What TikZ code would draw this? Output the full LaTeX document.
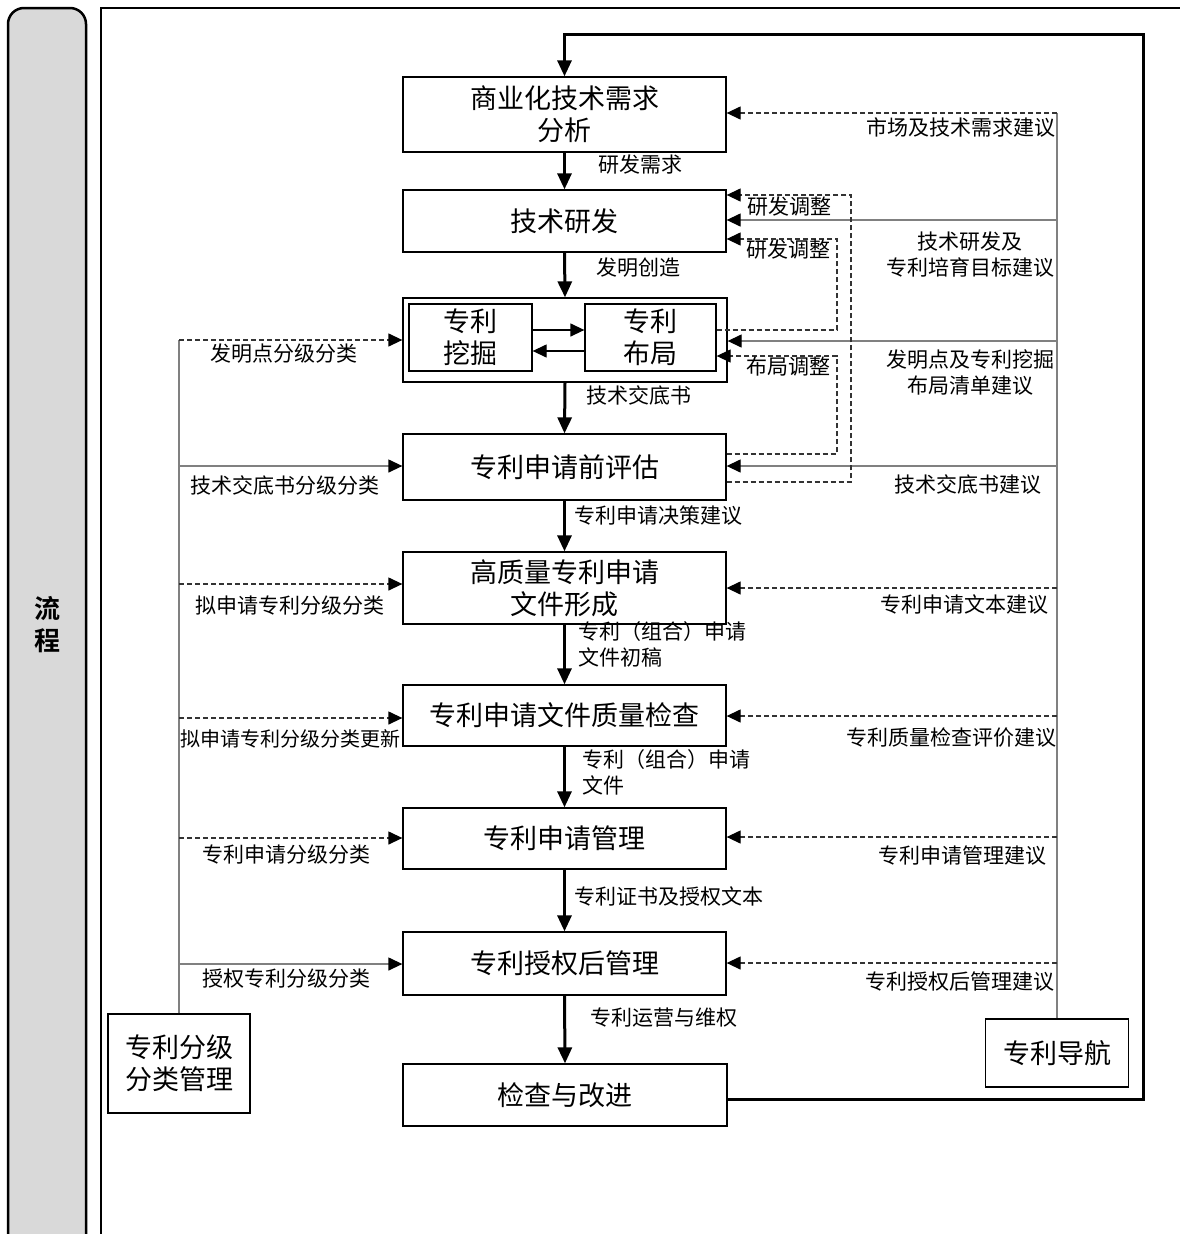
\documentclass[tikz,border=0pt]{standalone}
\usepackage{fontspec}
\setmainfont{Noto Sans CJK SC}
\newfontfamily\cjkbold{Noto Sans CJK SC Bold}
\usetikzlibrary{arrows.meta}
\definecolor{bargray}{HTML}{D9D9D9}
\definecolor{linegray}{HTML}{808080}
\begin{document}
\begin{tikzpicture}[x=1pt,y=-1pt,
  box/.style={draw, line width=1.3pt, inner sep=0pt, font=\fontsize{27}{32}\selectfont, align=center},
  lbl/.style={font=\fontsize{21}{26}\selectfont, inner sep=0pt, align=center},
  mainarrow/.style={line width=3pt, -{Triangle[length=16pt,width=14pt]}},
  solarrow/.style={line width=1.3pt, draw=linegray, -{Triangle[length=14pt,width=13pt,color=black]}},
  dsharrow/.style={line width=1.3pt, draw=black!80, dash pattern=on 5pt off 3pt, -{Triangle[length=14pt,width=13pt,color=black]}},
  dshline/.style={line width=1.3pt, draw=black!80, dash pattern=on 5pt off 3pt},
  inarrow/.style={line width=1.3pt, -{Triangle[length=14pt,width=13pt]}},
  grayline/.style={line width=1.3pt, draw=linegray}
]
\useasboundingbox (0,0) rectangle (1179,1234);
% side bar and frame
\draw[line width=2.5pt, fill=bargray, rounded corners=16pt] (8,8) rectangle (86,1252);
\node[font=\cjkbold\fontsize{26}{32}\selectfont, align=center] (side) at (47,625) {流\\程};
\draw[line width=2.5pt] (101,1250) -- (101,8) -- (1190,8);

% main boxes
\node[box, minimum width=323pt, minimum height=75pt] (b1) at (564.5,114.5) {商业化技术需求\\分析};
\node[box, minimum width=323pt, minimum height=62pt] (b2) at (564.5,221) {技术研发};
\node[draw, line width=1.3pt, inner sep=0pt, minimum width=324pt, minimum height=84pt] (b3) at (565,340) {};
\node[box, minimum width=123pt, minimum height=67pt] (bw) at (470.5,337.5) {专利\\挖掘};
\node[box, minimum width=131pt, minimum height=67pt] (bj) at (650.5,337.5) {专利\\布局};
\node[box, minimum width=323pt, minimum height=66pt] (b4) at (564.5,467) {专利申请前评估};
\node[box, minimum width=323pt, minimum height=72pt] (b5) at (564.5,588) {高质量专利申请\\文件形成};
\node[box, minimum width=323pt, minimum height=61pt] (b6) at (564.5,715.5) {专利申请文件质量检查};
\node[box, minimum width=323pt, minimum height=61pt] (b7) at (564.5,838.5) {专利申请管理};
\node[box, minimum width=323pt, minimum height=63pt] (b8) at (564.5,963.5) {专利授权后管理};
\node[box, minimum width=324pt, minimum height=62pt] (b9) at (565,1095) {检查与改进};
\node[box, minimum width=142pt, minimum height=99pt] (lbox) at (179,1063.5) {专利分级\\分类管理};
\node[box, minimum width=143pt, minimum height=68pt] (nbox) at (1057,1053) {专利导航};

% main flow
\draw[mainarrow] (b1.south) -- (b2.north);
\draw[mainarrow] (b2.south) -- (b3.north);
\draw[mainarrow] (b3.south) -- (b4.north);
\draw[mainarrow] (b4.south) -- (b5.north);
\draw[mainarrow] (b5.south) -- (b6.north);
\draw[mainarrow] (b6.south) -- (b7.north);
\draw[mainarrow] (b7.south) -- (b8.north);
\draw[mainarrow] (b8.south) -- (b9.north);
\coordinate (loopa) at (1143,1099);
\coordinate (loopb) at (1143,34);
\draw[mainarrow] (b9.east |- loopa) -- (loopa) -- (loopb) -- (b1.north |- loopb) -- (b1.north);

% flow labels
\node[lbl] (f1) at (640,165) {研发需求};
\node[lbl] (f2) at (638,268) {发明创造};
\node[lbl] (f3) at (639,395) {技术交底书};
\node[lbl] (f4) at (658,516) {专利申请决策建议};
\node[lbl, anchor=north west, align=left] (f5) at (578,621) {专利（组合）申请\\文件初稿};
\node[lbl, anchor=north west, align=left] (f6) at (582,749) {专利（组合）申请\\文件};
\node[lbl] (f7) at (669,896) {专利证书及授权文本};
\node[lbl] (f8) at (664,1018) {专利运营与维权};

% inner arrows
\coordinate (m1) at (560,330);
\coordinate (m2) at (560,351);
\draw[inarrow] (m1 -| bw.east) -- (m1 -| bj.west);
\draw[inarrow] (m2 -| bj.west) -- (m2 -| bw.east);

% left classification line
\coordinate (l1) at (179,340);
\coordinate (l2) at (179,466);
\coordinate (l3) at (179,584);
\coordinate (l4) at (179,718);
\coordinate (l5) at (179,838);
\coordinate (l6) at (179,964);
\draw[grayline] (lbox.north) -- (l1);
\draw[dsharrow] (l1) -- (l1 -| b3.west);
\draw[solarrow] (l2) -- (l2 -| b4.west);
\draw[dsharrow] (l3) -- (l3 -| b5.west);
\draw[dsharrow] (l4) -- (l4 -| b6.west);
\draw[dsharrow] (l5) -- (l5 -| b7.west);
\draw[solarrow] (l6) -- (l6 -| b8.west);
\node[lbl] (ll1) at (284,354) {发明点分级分类};
\node[lbl] (ll2) at (285,485) {技术交底书分级分类};
\node[lbl] (ll3) at (290,606) {拟申请专利分级分类};
\node[lbl, font=\fontsize{20}{24}\selectfont] (ll4) at (290,739) {拟申请专利分级分类更新};
\node[lbl] (ll5) at (286,855) {专利申请分级分类};
\node[lbl] (ll6) at (286,979) {授权专利分级分类};

% right navigation line
\coordinate (r1) at (1057,113);
\coordinate (r2) at (1057,220);
\coordinate (r3) at (1057,341);
\coordinate (r4) at (1057,466);
\coordinate (r5) at (1057,588);
\coordinate (r6) at (1057,716);
\coordinate (r7) at (1057,837);
\coordinate (r8) at (1057,963);
\draw[grayline] (nbox.north) -- (r1);
\draw[dsharrow] (r1) -- (r1 -| b1.east);
\draw[solarrow] (r2) -- (r2 -| b2.east);
\draw[solarrow] (r3) -- (r3 -| b3.east);
\draw[solarrow] (r4) -- (r4 -| b4.east);
\draw[dsharrow] (r5) -- (r5 -| b5.east);
\draw[dsharrow] (r6) -- (r6 -| b6.east);
\draw[dsharrow] (r7) -- (r7 -| b7.east);
\draw[dsharrow] (r8) -- (r8 -| b8.east);
\node[lbl, anchor=east] (rl1) at (1056,128) {市场及技术需求建议};
\node[lbl] (rl2) at (970,255) {技术研发及\\专利培育目标建议};
\node[lbl] (rl3) at (970,373) {发明点及专利挖掘\\布局清单建议};
\node[lbl] (rl4) at (968,484) {技术交底书建议};
\node[lbl] (rl5) at (964,605) {专利申请文本建议};
\node[lbl] (rl6) at (951,738) {专利质量检查评价建议};
\node[lbl] (rl7) at (962,856) {专利申请管理建议};
\node[lbl] (rl8) at (960,982) {专利授权后管理建议};

% adjustment loops
\coordinate (o1) at (851,482);
\coordinate (o2) at (851,195);
\draw[dsharrow] (o1 -| b4.east) -- (o1) -- (o2) -- (o2 -| b2.east);
\coordinate (i1) at (837,330);
\coordinate (i2) at (837,239);
\draw[dsharrow] (i1 -| bj.east) -- (i1) -- (i2) -- (i2 -| b2.east);
\coordinate (k1) at (837,454);
\coordinate (k2) at (837,356);
\draw[dsharrow] (k1 -| b4.east) -- (k1) -- (k2) -- (k2 -| bj.east);
\node[lbl] (a1) at (789,207) {研发调整};
\node[lbl] (a2) at (788,250) {研发调整};
\node[lbl] (a3) at (788,367) {布局调整};
\end{tikzpicture}
\end{document}
